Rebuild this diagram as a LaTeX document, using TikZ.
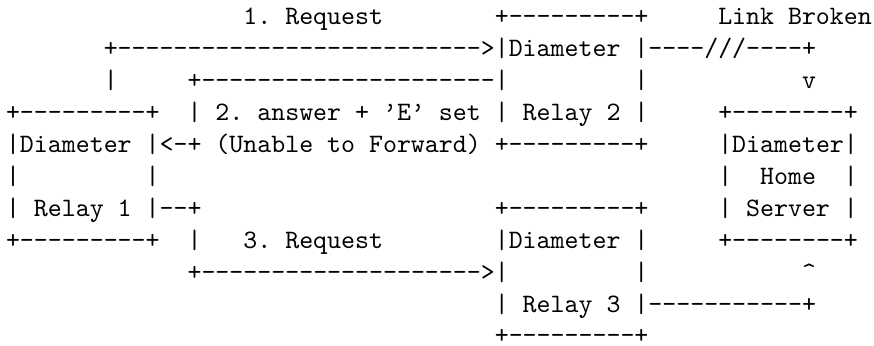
\documentclass[tikz,border=0pt]{standalone}
\newcommand\dsh[1]{\foreach\k in {1,...,#1}{-}}
\tikzset{
  seg/.style={anchor=base west, inner sep=0pt, outer sep=0pt,
    text depth=0pt, font=\ttfamily\frenchspacing, text=black},
}
\newcommand\seg[4]{\node[seg] (#1) at (#2*5.25pt, -#3*12pt+12pt) {#4};}
\begin{document}
\begin{tikzpicture}
\fill[white] (-2.26pt,-120.4pt) rectangle (326.3pt,9.3pt);
\useasboundingbox (-2.26pt,-120.4pt) rectangle (326.3pt,9.3pt);
% row 1
\seg{reqone}{17}{1}{1. Request}
\seg{rtwotop}{35}{1}{+\dsh{9}+}
\seg{broken}{51}{1}{Link Broken}
% row 2
\seg{arrowone}{7}{2}{+\dsh{26}>}
\seg{rtwoa}{35}{2}{|Diameter |}
\seg{linkbroken}{46}{2}{\dsh{4}///\dsh{4}+}
% row 3
\seg{vleft}{7}{3}{|}
\seg{ansline}{13}{3}{+\dsh{21}|}
\seg{rtwob}{45}{3}{|}
\seg{vdown}{57}{3}{v}
% row 4
\seg{ronetop}{0}{4}{+\dsh{9}+}
\seg{anstext}{13}{4}{| 2. answer + ’E’ set | Relay 2 |}
\seg{hstop}{51}{4}{+\dsh{8}+}
% row 5
\seg{ronea}{0}{5}{|Diameter |<-+ (Unable to Forward) +\dsh{9}+}
\seg{hsa}{51}{5}{|Diameter|}
% row 6
\seg{ronel}{0}{6}{|}
\seg{roner}{10}{6}{|}
\seg{hsb}{51}{6}{|~~Home~~|}
% row 7
\seg{roneb}{0}{7}{| Relay 1 |\dsh{2}+}
\seg{rthreetop}{35}{7}{+\dsh{9}+}
\seg{hsc}{51}{7}{| Server |}
% row 8
\seg{ronebot}{0}{8}{+\dsh{9}+}
\seg{vthree}{13}{8}{|}
\seg{reqthree}{17}{8}{3. Request}
\seg{rthreea}{35}{8}{|Diameter |}
\seg{hsbot}{51}{8}{+\dsh{8}+}
% row 9
\seg{arrowthree}{13}{9}{+\dsh{20}>|}
\seg{rthreeb}{45}{9}{|}
\seg{vup}{57}{9}{\textasciicircum}
% row 10
\seg{rthreec}{35}{10}{| Relay 3 |\dsh{11}+}
% row 11
\seg{rthreebot}{35}{11}{+\dsh{9}+}
\end{tikzpicture}
\end{document}
